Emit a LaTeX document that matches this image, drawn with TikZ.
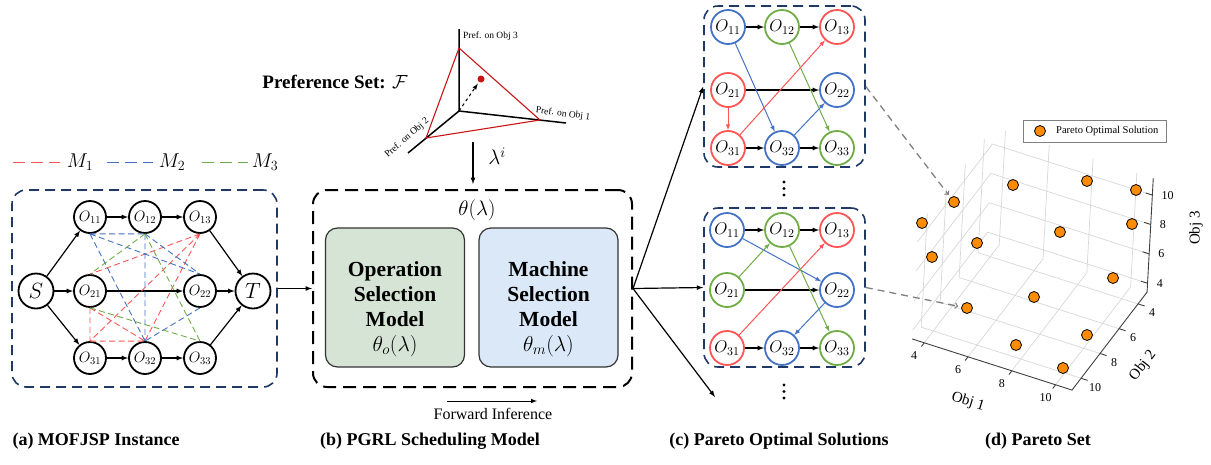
\RequirePackage{fix-cm}
\documentclass[tikz,border=0pt]{standalone}
\usepackage{fontspec}
\setmainfont{Liberation Serif}
\usetikzlibrary{arrows}
\newcommand{\opsize}{32pt}
\newcommand{\solsize}{34pt}
\newcommand{\pxfont}[2]{\fontsize{#1}{#2}\selectfont}

\definecolor{mred}{RGB}{255,85,85}
\definecolor{mblue}{RGB}{68,114,196}
\definecolor{mgreen}{RGB}{112,173,71}
\definecolor{navy}{RGB}{31,56,100}
\definecolor{opfill}{RGB}{214,228,213}
\definecolor{msfill}{RGB}{218,232,248}
\definecolor{prefred}{RGB}{200,20,20}
\definecolor{darkorange}{RGB}{255,140,0}
\definecolor{gridgray}{RGB}{215,215,215}

\tikzset{
  op/.style={draw, circle, line width=1.8pt, minimum size=\opsize, inner sep=0pt, font=\pxfont{15}{18}},
  term/.style={op, minimum size=35pt, font=\pxfont{22}{24}},
  sol/.style={draw=#1, circle, line width=1.8pt, minimum size=\solsize, inner sep=0pt, font=\pxfont{17}{20}},
  seq/.style={->, line width=1.2pt},
  mach/.style={draw=#1, dash pattern=on 6pt off 3.5pt, line width=0.9pt},
  legdash/.style={draw=#1, dash pattern=on 12pt off 6pt, line width=1pt},
  jobframe/.style={draw=navy, dash pattern=on 10pt off 6pt, line width=1.6pt, rounded corners=14pt, inner sep=0pt},
  model/.style={draw=black, dash pattern=on 13pt off 7pt, line width=2pt, rounded corners=14pt, inner sep=0pt},
  subnet/.style={draw=black!80, fill=#1, line width=1.2pt, rounded corners=12pt, minimum width=139pt, minimum height=139pt},
  mv/.style={->, draw=#1, line width=1pt},
  gridline/.style={draw=gridgray, line width=0.7pt},
  axisline/.style={draw=black!75, line width=0.9pt},
  solpt/.style={circle, draw=black, fill=darkorange, line width=0.8pt, minimum size=11pt, inner sep=0pt},
  link/.style={-to, draw=gray, dash pattern=on 7pt off 5pt, line width=1.3pt, shorten >=3pt},
  tick/.style={font=\pxfont{12}{14}, inner sep=1pt},
  caption/.style={font=\bfseries\pxfont{18}{20}},
}

\begin{document}
\begin{tikzpicture}[x=1pt, y=-1pt, >=latex]
\useasboundingbox (0,0) rectangle (1211,464);

% (a) instance: disjunctive graph
\draw[legdash=mred] (13,162) -- (60,162);
\node (m1) at (80,162) [font=\pxfont{20}{22}] {$M_1$};
\draw[legdash=mblue] (107,162) -- (153,162);
\node (m2) at (172,162) [font=\pxfont{20}{22}] {$M_2$};
\draw[legdash=mgreen] (202,162) -- (248,162);
\node (m3) at (265,162) [font=\pxfont{20}{22}] {$M_3$};

\node (insta) at (144.5,288.5) [jobframe, minimum width=265pt, minimum height=197pt] {};
\node (s) at (36,291) [term] {$S$};
\node (t) at (253,291) [term] {$T$};
\node (o11) at (90,217) [op] {$O_{11}$};
\node (o12) at (145,217) [op] {$O_{12}$};
\node (o13) at (200,217) [op] {$O_{13}$};
\node (o21) at (90,291) [op] {$O_{21}$};
\node (o22) at (200,291) [op] {$O_{22}$};
\node (o31) at (90,358) [op] {$O_{31}$};
\node (o32) at (145,358) [op] {$O_{32}$};
\node (o33) at (200,358) [op] {$O_{33}$};

\draw[seq] (s) to (o11);
\draw[seq] (s) to (o21);
\draw[seq] (s) to (o31);
\draw[seq] (o11) to (o12);
\draw[seq] (o12) to (o13);
\draw[seq] (o13) to (t);
\draw[seq] (o21) to (o22);
\draw[seq] (o22) to (t);
\draw[seq] (o31) to (o32);
\draw[seq] (o32) to (o33);
\draw[seq] (o33) to (t);

% machine cliques
\draw[mach=mred] (o13.south) to (o21.north) (o13.south) to (o31.north)
  (o13.south) to (o32.north) (o21.south) to (o31.north)
  (o21.south) to (o32.north) (o31.north) to (o32.north);
\draw[mach=mblue] (o11.south) to (o12.south) (o11.south) to (o22.north)
  (o11.south) to (o32.north) (o12.south) to (o22.north)
  (o12.south) to (o32.north) (o22.south) to (o32.north);
\draw[mach=mgreen] (o12.south) to (o21.north) (o12.south) to (o33.north)
  (o21.south) to (o33.north);

% (b) preference simplex
\node (prefset) at (335,82) [font=\bfseries\pxfont{19}{22}] {Preference Set: $\mathcal{F}$};
\coordinate (po) at (459,111);
\coordinate (pz) at (459,29);
\coordinate (px) at (566,123);
\coordinate (py) at (408,153);
\coordinate (vz) at (459,48);
\coordinate (vx) at (540,120);
\coordinate (vy) at (426,138);
\draw[line width=1.5pt] (po) -- (pz) (po) -- (px) (po) -- (py);
\draw[prefred, line width=1.1pt] (vz) -- (vx) -- (vy) -- cycle;
\node (lam) at (481,79) [circle, fill=prefred, minimum size=7pt, inner sep=0pt] {};
\draw[->, dashed, line width=1pt, shorten >=2pt] (po) -- (lam);
\node (pref3) at (463,36) [anchor=west, font=\pxfont{9.5}{11}, inner sep=0pt] {Pref. on Obj 3};
\node (pref1) at (563,114) [rotate=-7, font=\pxfont{9.5}{11}] {Pref. on Obj 1};
\node (pref2) at (407,138) [rotate=41, font=\pxfont{9.5}{11}] {Pref. on Obj 2};

\coordinate (lamfrom) at (473,142);
\coordinate (lamto) at (473,184);
\draw[seq] (lamfrom) -- (lamto);
\node (lamlabel) at (497,156) [font=\pxfont{21}{24}] {$\lambda^i$};

% (b) scheduling model
\node (pgrl) at (472.5,288.5) [model, minimum width=319pt, minimum height=197pt] {};
\node (theta) at (477,210) [font=\pxfont{21}{24}] {$\theta(\lambda)$};
\node (opsel) at (395,297.5) [subnet=opfill] {};
\node (optext) at (395,309) [align=center, font=\bfseries\pxfont{21.5}{25}] {Operation\\Selection\\Model\\$\theta_o(\lambda)$};
\node (masel) at (548.5,297.5) [subnet=msfill] {};
\node (matext) at (548.5,309) [align=center, font=\bfseries\pxfont{21.5}{25}] {Machine\\Selection\\Model\\$\theta_m(\lambda)$};
\draw[seq] (insta) -- (pgrl);

\coordinate (fwd0) at (447,401);
\coordinate (fwd1) at (537,401);
\draw[->, line width=1pt] (fwd0) -- (fwd1);
\node (fwdtext) at (493,414) [font=\pxfont{16}{18}] {Forward Inference};

% (c) two of the solutions
\node (sola) at (784.5,86.5) [jobframe, minimum width=161pt, minimum height=161pt] {};
\node (a11) at (728,27) [sol=mblue] {$O_{11}$};
\node (a12) at (782,27) [sol=mgreen] {$O_{12}$};
\node (a13) at (837,27) [sol=mred] {$O_{13}$};
\node (a21) at (728,90) [sol=mred] {$O_{21}$};
\node (a22) at (837,90) [sol=mblue] {$O_{22}$};
\node (a31) at (728,148) [sol=mred] {$O_{31}$};
\node (a32) at (782,148) [sol=mblue] {$O_{32}$};
\node (a33) at (837,148) [sol=mgreen] {$O_{33}$};
\draw[seq] (a11) to (a12);
\draw[seq] (a12) to (a13);
\draw[seq] (a21) to (a22);
\draw[seq] (a31) to (a32);
\draw[seq] (a32) to (a33);
\draw[mv=mblue] (a11) to (a32);
\draw[mv=mgreen] (a12) to (a33);
\draw[mv=mred] (a21) to (a31);
\draw[mv=mred] (a31) to (a13);
\draw[mv=mblue] (a32) to (a22);
\foreach \y in {182,188.5,195} \fill (784,\y) circle (1.7pt);

\node (solb) at (784.5,287.5) [jobframe, minimum width=161pt, minimum height=159pt] {};
\node (b11) at (727,230) [sol=mblue] {$O_{11}$};
\node (b12) at (782,230) [sol=mgreen] {$O_{12}$};
\node (b13) at (837,230) [sol=mred] {$O_{13}$};
\node (b21) at (727,290) [sol=mgreen] {$O_{21}$};
\node (b22) at (837,290) [sol=mblue] {$O_{22}$};
\node (b31) at (727,348) [sol=mred] {$O_{31}$};
\node (b32) at (782,348) [sol=mblue] {$O_{32}$};
\node (b33) at (837,348) [sol=mgreen] {$O_{33}$};
\draw[seq] (b11) to (b12);
\draw[seq] (b12) to (b13);
\draw[seq] (b21) to (b22);
\draw[seq] (b31) to (b32);
\draw[seq] (b32) to (b33);
\draw[mv=mblue] (b11) to (b22);
\draw[mv=mgreen] (b21) to (b12);
\draw[mv=mred] (b31) to (b13);
\draw[mv=mgreen] (b12) to (b33);
\draw[mv=mblue] (b22) to (b32);
\foreach \y in {385,391.5,398} \fill (784,\y) circle (1.7pt);

\coordinate (more) at (715,397);
\draw[seq] (pgrl.east) -- (sola.west);
\draw[seq] (pgrl.east) -- (solb.west);
\draw[seq] (pgrl.east) -- (more);

% (d) pareto set, 3d axes
\begin{scope}[shift={(937.9,229)}, x={(21.9pt,-7pt)}, y={(-9.5pt,-12.4pt)}, z={(0.8pt,14.7pt)}]
  \foreach \t in {4,6,8,10} {
    \draw[gridline] (3.45,\t,3.4) -- (3.45,\t,11.15);
    \draw[gridline] (3.45,3.05,\t) -- (3.45,10.95,\t);
    \draw[gridline] (\t,3.05,3.4) -- (\t,3.05,11.15);
    \draw[gridline] (3.45,3.05,\t) -- (10.75,3.05,\t);
    \draw[gridline] (\t,3.05,3.4) -- (\t,10.95,3.4);
    \draw[gridline] (3.45,\t,3.4) -- (10.75,\t,3.4);
  }
  \draw[axisline] (3.45,10.95,3.4) -- (10.75,10.95,3.4) -- (10.75,3.05,3.4) -- (10.75,3.05,11.15);
  \foreach \t in {4,6,8,10} {
    \draw[axisline] (\t,10.95,3.4) -- (\t,11.25,3.4);
    \node (xt\t) at (\t,12.0,3.4) [tick] {\t};
    \draw[axisline] (10.75,\t,3.4) -- (11.05,\t,3.4);
    \node (yt\t) at (11.4,\t,3.1) [tick] {\t};
    \draw[axisline] (10.75,3.05,\t) -- (10.45,3.05,\t);
    \node (zt\t) at (10.75,3.05,\t) [tick, anchor=west, xshift=8pt] {\t};
  }
\end{scope}
\node (obj1) at (968,402) [rotate=-17, font=\pxfont{15}{17}] {Obj 1};
\node (obj2) at (1143,366) [rotate=52, font=\pxfont{15}{17}] {Obj 2};
\node (obj3) at (1196,228) [rotate=90, font=\pxfont{15}{17}] {Obj 3};

\foreach \n/\p in {1/{954,202}, 2/{922,223}, 3/{932,257}, 4/{977,243}, 5/{1013,185},
    6/{1087,181}, 7/{1136,190}, 8/{1132,224}, 9/{1060,232}, 10/{1113,278},
    11/{1034,297}, 12/{967,308}, 13/{1087,335}, 14/{1016,345}, 15/{1063,368}}
  \node (p\n) at (\p) [solpt] {};

\node (legend) at (1094.5,131) [draw=gray, line width=0.8pt, minimum width=143pt, minimum height=22pt] {};
\node (legmark) at (1040,131) [solpt] {};
\node (legtext) at (1056,131) [anchor=west, inner sep=0pt, font=\pxfont{10.5}{12}] {Pareto Optimal Solution};

\draw[link] (sola.east) -- (p1);
\draw[link] (solb.east) -- (p12);

% captions
\node (capa) at (96,441) [caption] {(a) MOFJSP Instance};
\node (capb) at (430,441) [caption] {(b) PGRL Scheduling Model};
\node (capc) at (779,441) [caption] {(c) Pareto Optimal Solutions};
\node (capd) at (1038,441) [caption] {(d) Pareto Set};
\end{tikzpicture}
\end{document}
